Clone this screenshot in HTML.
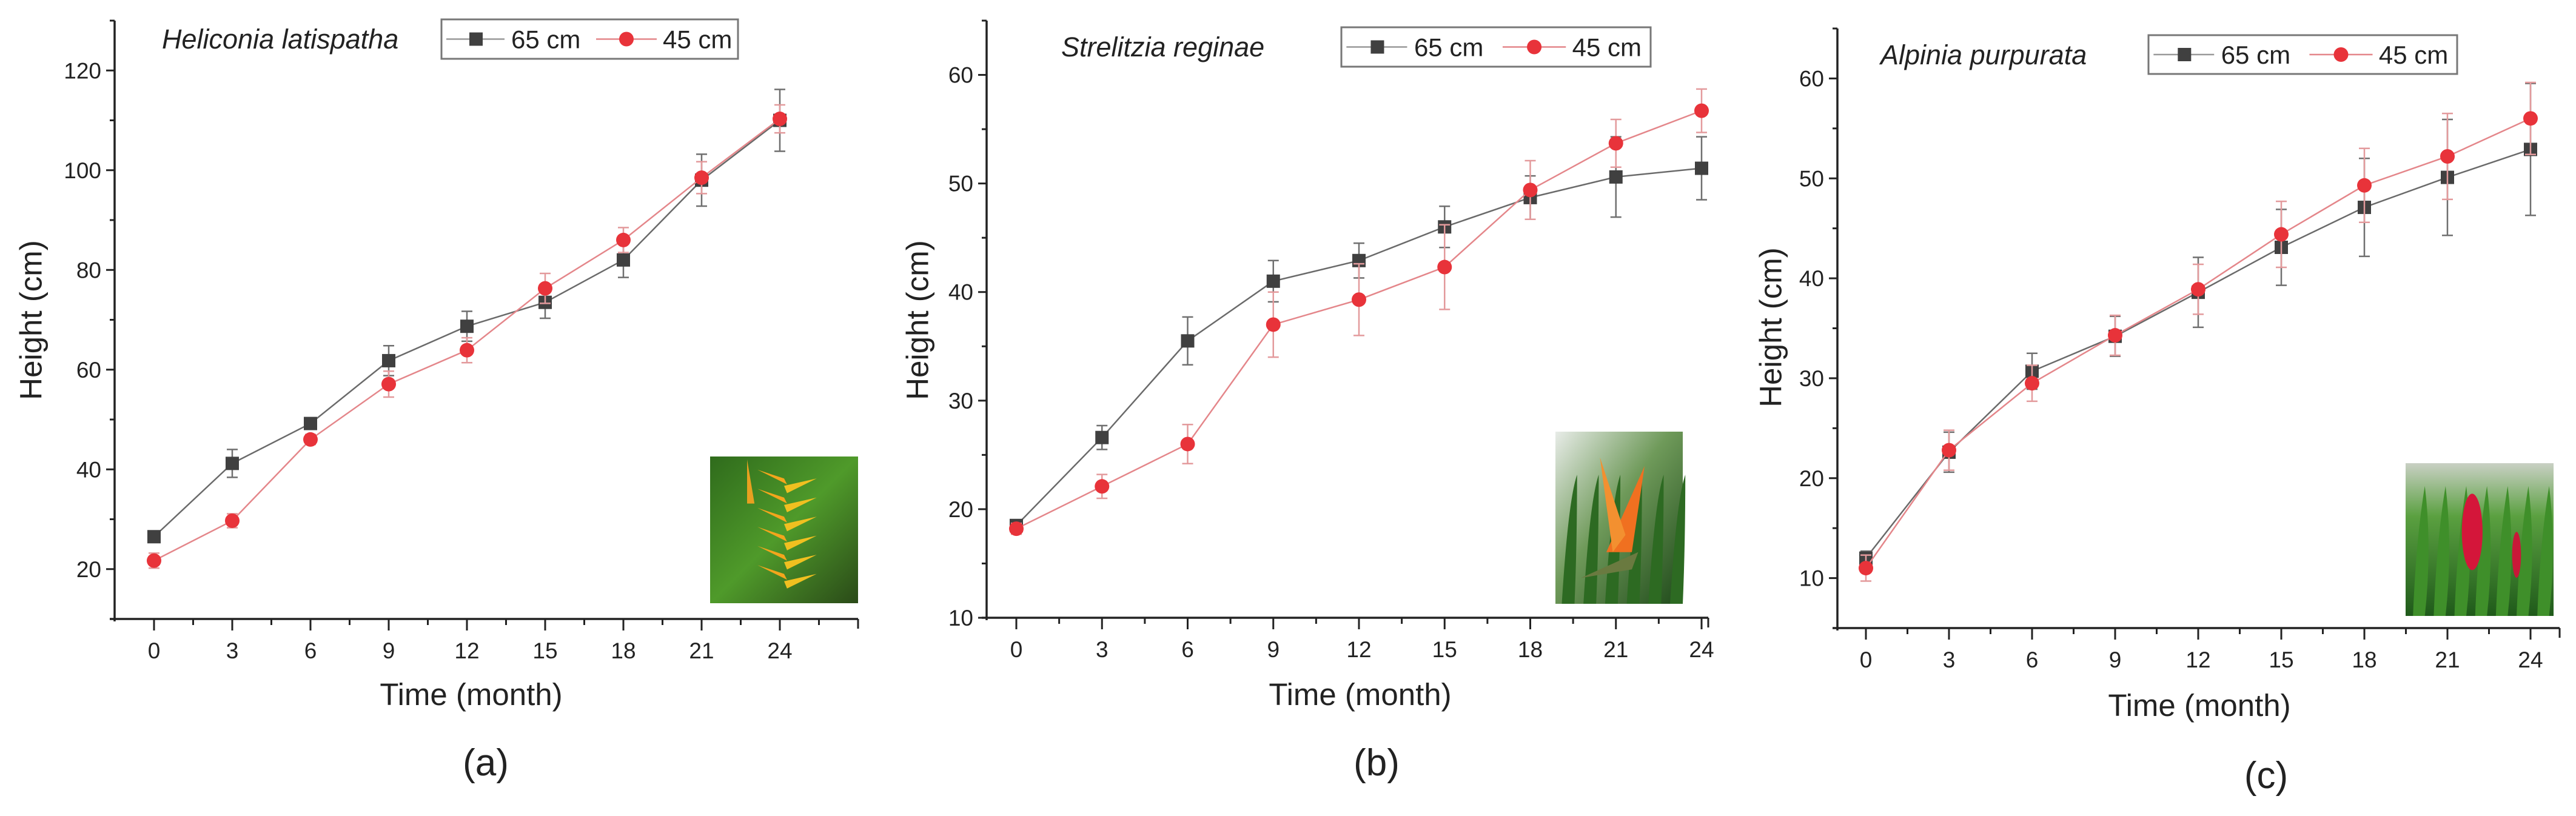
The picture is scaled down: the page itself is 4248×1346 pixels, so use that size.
<!DOCTYPE html>
<html><head><meta charset="utf-8">
<style>
html,body{margin:0;padding:0;background:#fff;}
svg{display:block;font-family:"Liberation Sans",Arial,sans-serif;}
</style></head>
<body>
<svg id="fig" width="4248" height="1346" viewBox="0 0 4248 1346" xmlns="http://www.w3.org/2000/svg">
<defs>
<linearGradient id="gA" x1="0" y1="0" x2="1" y2="1"><stop offset="0" stop-color="#2f6b1c"/><stop offset="0.5" stop-color="#4f9a2a"/><stop offset="1" stop-color="#2a4a18"/></linearGradient>
<linearGradient id="gB" x1="0" y1="0" x2="1" y2="1"><stop offset="0" stop-color="#e8ece8"/><stop offset="0.45" stop-color="#6f9a5a"/><stop offset="1" stop-color="#1f4a1a"/></linearGradient>
<linearGradient id="gC" x1="0" y1="0" x2="0" y2="1"><stop offset="0" stop-color="#c9d0c4"/><stop offset="0.35" stop-color="#5aa040"/><stop offset="1" stop-color="#1f5a1a"/></linearGradient>
</defs>
</svg>
<script>
// Panel (a) Heliconia latispatha
const monthsA = [0,3,6,9,12,15,18,21,24];
const a65 = [26.5,41.2,49.2,61.8,68.7,73.5,82.0,98.0,110.0];
const a65err = [1.0,2.8,1.0,3.0,3.0,3.2,3.5,5.2,6.2];
const a45 = [21.7,29.7,46.0,57.1,63.9,76.3,86.0,98.5,110.3];
const a45err = [1.5,1.4,1.0,2.6,2.5,3.0,2.5,3.2,2.8];
const yTicksA = [20,40,60,80,100,120];
// Panel (b) Strelitzia reginae
const monthsB = [0,3,6,9,12,15,18,21,24];
const b65 = [18.5,26.6,35.5,41.0,42.9,46.0,48.7,50.6,51.4];
const b65err = [0.5,1.1,2.2,1.9,1.6,1.9,2.0,3.7,2.9];
const b45 = [18.2,22.1,26.0,37.0,39.3,42.3,49.4,53.7,56.7];
const b45err = [0.5,1.1,1.8,3.0,3.3,3.9,2.7,2.2,2.0];
const yTicksB = [10,20,30,40,50,60];
// Panel (c) Alpinia purpurata
const monthsC = [0,3,6,9,12,15,18,21,24];
const c65 = [12.0,22.6,30.7,34.2,38.6,43.1,47.1,50.1,52.9];
const c65err = [0.7,2.0,1.8,2.0,3.5,3.8,4.9,5.8,6.6];
const c45 = [11.0,22.8,29.5,34.3,38.9,44.4,49.3,52.2,56.0];
const c45err = [1.3,2.0,1.8,2.0,2.5,3.3,3.7,4.3,3.6];
const yTicksC = [10,20,30,40,50,60];
const xTicks = [0,3,6,9,12,15,18,21,24];
const legendLabels = ['65 cm','45 cm'];

const NS='http://www.w3.org/2000/svg';
const svg=document.getElementById('fig');
function mk(tag,attrs,parent,text){const e=document.createElementNS(NS,tag);for(const k in attrs)e.setAttribute(k,attrs[k]);if(text!==undefined)e.textContent=text;(parent||svg).appendChild(e);return e;}

const panels=[
 {id:'a',title:'Heliconia latispatha',months:monthsA,s65:a65,e65:a65err,s45:a45,e45:a45err,yt:yTicksA,ymin:10,ymax:130,yminor:10,
  ax:189,top:34,bottom:1021,right:1415,x0:254,x24:1286,leg:[728,32,1217,97],tx:267,ty:64,ytx:51,yty:528,xtx:777,xty:1145,lab:'(a)',lx:801,ly:1257,
  photo:[1171,753,1415,995],kind:'a'},
 {id:'b',title:'Strelitzia reginae',months:monthsB,s65:b65,e65:b65err,s45:b45,e45:b45err,yt:yTicksB,ymin:10,ymax:65,yminor:5,
  ax:1627,top:34,bottom:1019,right:2817,x0:1676,x24:2806,leg:[2212,45,2722,110],tx:1750,ty:77,ytx:1513,yty:528,xtx:2243,xty:1145,lab:'(b)',lx:2270,ly:1257,
  photo:[2565,712,2775,996],kind:'b'},
 {id:'c',title:'Alpinia purpurata',months:monthsC,s65:c65,e65:c65err,s45:c45,e45:c45err,yt:yTicksC,ymin:5,ymax:65,yminor:5,
  ax:3030,top:47,bottom:1036,right:4221,x0:3077,x24:4173,leg:[3543,58,4052,122],tx:3101,ty:90,ytx:2920,yty:540,xtx:3627,xty:1163,lab:'(c)',lx:3737,ly:1278,
  photo:[3967,764,4211,1016],kind:'c'}
];

function drawPhoto(g,p){
 const [x1,y1,x2,y2]=p.photo,w=x2-x1,h=y2-y1;
 const fill=p.kind==='a'?'url(#gA)':p.kind==='b'?'url(#gB)':'url(#gC)';
 mk('rect',{x:x1,y:y1,width:w,height:h,fill:fill},g);
 if(p.kind==='a'){
  for(let i=0;i<6;i++){const cy=y1+h*(0.15+i*0.13),cx=x1+w*0.5;
   mk('path',{d:`M${cx} ${cy} l${-w*0.18} ${-h*0.06} l${w*0.2} ${h*0.1} z`,fill:'#f3a51c'},g);
   mk('path',{d:`M${cx} ${cy+h*0.05} l${w*0.22} ${-h*0.05} l${-w*0.2} ${h*0.1} z`,fill:'#f0c020'},g);}
  mk('path',{d:`M${x1+w*0.25} ${y1+5} l${w*0.05} ${h*0.3} l${-w*0.05} 0 z`,fill:'#e8a020'},g);
 } else if(p.kind==='b'){
  for(let i=0;i<6;i++)mk('path',{d:`M${x1+w*(0.05+i*0.17)} ${y2} q${w*0.05} ${-h*0.6} ${w*0.12} ${-h*0.75} q0 ${h*0.4} ${-w*0.02} ${h*0.75} z`,fill:'#2d6a22'},g);
  mk('path',{d:`M${x1+w*0.4} ${y1+h*0.7} l${w*0.3} ${-h*0.5} l${-w*0.1} ${h*0.5} z`,fill:'#f07020'},g);
  mk('path',{d:`M${x1+w*0.45} ${y1+h*0.7} l${-w*0.1} ${-h*0.55} l${w*0.2} ${h*0.45} z`,fill:'#f39030'},g);
  mk('path',{d:`M${x1+w*0.2} ${y1+h*0.85} l${w*0.45} ${-h*0.15} l${-w*0.05} ${h*0.1} z`,fill:'#6a7a40'},g);
 } else {
  for(let i=0;i<7;i++)mk('path',{d:`M${x1+w*(0.05+i*0.14)} ${y2} q${w*0.02} ${-h*0.5} ${w*0.08} ${-h*0.85} q${w*0.05} ${h*0.4} ${-w*0.0} ${h*0.85} z`,fill:'#3f8f2a'},g);
  mk('ellipse',{cx:x1+w*0.45,cy:y1+h*0.45,rx:w*0.07,ry:h*0.25,fill:'#d4163a'},g);
  mk('ellipse',{cx:x1+w*0.75,cy:y1+h*0.6,rx:w*0.03,ry:h*0.15,fill:'#c81838'},g);
 }
}

panels.forEach(p=>{
 const g=mk('g',{});
 
 
 const X=m=>p.x0+(p.x24-p.x0)*m/24;
 const Y=v=>p.bottom-(p.bottom-p.top)*(v-p.ymin)/(p.ymax-p.ymin);
 const ph=mk('g',{},g);
 
 
 drawPhoto(ph,p);
 const ya=mk('line',{x1:p.ax,y1:p.top,x2:p.ax,y2:p.bottom+4,stroke:'#222','stroke-width':3.5},g);
 
 
 const xa=mk('line',{x1:p.ax-8,y1:p.bottom,x2:p.right,y2:p.bottom,stroke:'#222','stroke-width':3.5},g);
 
 
 mk('line',{x1:p.right,y1:p.bottom,x2:p.right,y2:p.bottom+16,stroke:'#222','stroke-width':3},g);
 for(let v=p.ymin;v<=p.ymax+0.001;v+=p.yminor){
  const major=p.yt.includes(v);
  mk('line',{x1:p.ax-(major?14:8),y1:Y(v),x2:p.ax,y2:Y(v),stroke:'#222','stroke-width':3},g);
 }
 p.yt.forEach(v=>{
  const t=mk('text',{x:p.ax-22,y:Y(v)+13,'text-anchor':'end','font-size':37,fill:'#222'},g,String(v));
  
  
 });
 for(let m=-1.5;X(m)<=p.right-5;m+=1.5){
  if(X(m)<p.ax+5)continue;
  const major=xTicks.includes(m);
  mk('line',{x1:X(m),y1:p.bottom,x2:X(m),y2:p.bottom+(major?19:10),stroke:'#222','stroke-width':3},g);
 }
 xTicks.forEach(m=>{
  const t=mk('text',{x:X(m),y:p.bottom+65,'text-anchor':'middle','font-size':37,fill:'#222'},g,String(m));
  
  
 });
 const yt=mk('text',{x:p.ytx,y:p.yty,'text-anchor':'middle','font-size':51,fill:'#222',transform:`rotate(-90 ${p.ytx} ${p.yty})`,'dominant-baseline':'central'},g,'Height (cm)');
 
 
 const xt=mk('text',{x:p.xtx,y:p.xty+18,'text-anchor':'middle','font-size':51,fill:'#222'},g,'Time (month)');
 
 
 const pl=mk('text',{x:p.lx,y:p.ly+22,'text-anchor':'middle','font-size':62,fill:'#222'},g,p.lab);
 
 
 const st=mk('text',{x:p.tx,y:p.ty+16,'font-size':45,'font-style':'italic',fill:'#222'},g,p.title);
 
 
 const series=[
  {v:p.s45,e:p.e45,line:'#e4868a',eb:'#e39a9c',mark:'#e8333a',shape:'c',name:'45cm'},
  {v:p.s65,e:p.e65,line:'#6a6a6a',eb:'#6f6f6f',mark:'#404040',shape:'s',name:'65cm'}
 ];
 [series[1],series[0]].forEach(s=>{
  const sg=mk('g',{},g);
  
  
  s.v.forEach((v,i)=>{
   const x=X(p.months[i]);
   mk('line',{x1:x,y1:Y(v+s.e[i]),x2:x,y2:Y(v-s.e[i]),stroke:s.eb,'stroke-width':2.5},sg);
   mk('line',{x1:x-9,y1:Y(v+s.e[i]),x2:x+9,y2:Y(v+s.e[i]),stroke:s.eb,'stroke-width':2.5},sg);
   mk('line',{x1:x-9,y1:Y(v-s.e[i]),x2:x+9,y2:Y(v-s.e[i]),stroke:s.eb,'stroke-width':2.5},sg);
  });
  mk('polyline',{points:s.v.map((v,i)=>X(p.months[i])+','+Y(v)).join(' '),fill:'none',stroke:s.line,'stroke-width':2.5},sg);
  s.v.forEach((v,i)=>{
   const x=X(p.months[i]);
   let m;
   if(s.shape==='s')m=mk('rect',{x:x-11,y:Y(v)-11,width:22,height:22,fill:s.mark},sg);
   else m=mk('circle',{cx:x,cy:Y(v),r:12,fill:s.mark},sg);
   
   
  });
 });
 const [l1,t1,l2,t2]=p.leg,lh=t2-t1,cy=(t1+t2)/2,sc=(l2-l1)/489;
 const lg=mk('g',{},g);
 
 
 mk('rect',{x:l1,y:t1,width:l2-l1,height:lh,fill:'#fff',stroke:'#777','stroke-width':3},lg);
 mk('line',{x1:l1+8*sc,y1:cy,x2:l1+104*sc,y2:cy,stroke:'#999','stroke-width':2.5},lg);
 mk('rect',{x:l1+57*sc-11,y:cy-11,width:22,height:22,fill:'#404040'},lg);
 const e1=mk('text',{x:l1+115*sc,y:cy+15,'font-size':42,fill:'#222'},lg,legendLabels[0]);
 
 
 mk('line',{x1:l1+255*sc,y1:cy,x2:l1+355*sc,y2:cy,stroke:'#e4868a','stroke-width':2.5},lg);
 mk('circle',{cx:l1+305*sc,cy:cy,r:12,fill:'#e8333a'},lg);
 const e2=mk('text',{x:l1+365*sc,y:cy+15,'font-size':42,fill:'#222'},lg,legendLabels[1]);
 
 
});
</script>
</body></html>
